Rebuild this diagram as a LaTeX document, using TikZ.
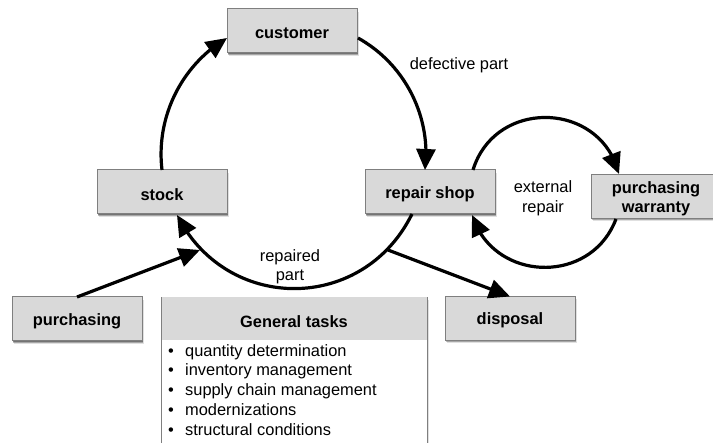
\documentclass[tikz,border=0pt]{standalone}
\usepackage{fontspec}
\setmainfont{Liberation Sans}
\usetikzlibrary{arrows.meta,shadows,bending}
\definecolor{boxfill}{HTML}{D9D9D9}
\definecolor{boxline}{HTML}{7F7F7F}
\newcommand\lowr[1]{\raisebox{-2.2pt}[\height][\depth]{#1}}
\tikzset{
  softshadow/.style={general shadow={shadow xshift=2pt,shadow yshift=-3pt,fill=black,opacity=.12},
    general shadow={shadow xshift=1.3pt,shadow yshift=-2pt,fill=black,opacity=.25},
    general shadow={shadow xshift=.7pt,shadow yshift=-1pt,fill=black,opacity=.3}},
  boxnode/.style={draw=boxline,fill=boxfill,line width=1pt,minimum width=130pt,minimum height=44pt,
    inner sep=0pt,outer sep=0pt,align=center,font=\fontsize{16.4}{19.5}\selectfont\bfseries,softshadow},
  label/.style={inner sep=0pt,align=center,font=\fontsize{16.4}{19.5}\selectfont},
  flow/.style={line width=3.2pt,-{Triangle[length=21pt,width=19pt,flex]}}
}
\begin{document}
\begin{tikzpicture}[x=1pt,y=-1pt]
\clip (0,0) rectangle (713,443);
\fill[white] (0,0) rectangle (713,443);
\node[boxnode] (customer) at (292,31) {\lowr{customer}};
\node[boxnode] (stock) at (162,192) {\lowr{stock}};
\node[boxnode] (repair) at (430,192) {\lowr{repair shop}};
\node[boxnode] (warranty) at (656,196.5) {\lowr{purchasing}\\\lowr{warranty}};
\node[boxnode] (purchasing) at (77,319) {\lowr{purchasing}};
\node[boxnode] (disposal) at (510,318.5) {\lowr{disposal}};
% general tasks
\node[draw=boxline,line width=.8pt,fill=white,minimum width=266pt,minimum height=150pt,inner sep=0pt,outer sep=0pt,anchor=north,softshadow] (tasksbody) at (294,297) {};
\node[fill=boxfill,minimum width=265pt,minimum height=43pt,inner sep=0pt,outer sep=0pt,anchor=north,font=\fontsize{16.4}{19.5}\selectfont\bfseries] (taskshead) at (294,297.5) {\lowr{General tasks}};
\node[label,anchor=north west,align=left,font=\fontsize{16.4}{19.9}\selectfont] (tasklist) at (168,344) {%
\makebox[17pt][l]{\textbullet}quantity determination\\
\makebox[17pt][l]{\textbullet}inventory management\\
\makebox[17pt][l]{\textbullet}supply chain management\\
\makebox[17pt][l]{\textbullet}modernizations\\
\makebox[17pt][l]{\textbullet}structural conditions};
% anchors on the circles
\coordinate (custIn) at (227,38);
\coordinate (custOut) at (358,38);
\coordinate (repIn) at (425,170);
\coordinate (repOut) at (412,214);
\coordinate (stockIn) at (177,215);
\coordinate (repTop) at (473,170);
\coordinate (warIn) at (619,174);
\coordinate (warOut) at (616,219);
\coordinate (repSide) at (472,215);
\coordinate (mainIn) at (200,250);
\coordinate (dispOut) at (388,250);
\draw[flow] (stock.north) to[bend left=33,looseness=.925] (custIn);
\draw[flow] (custOut) to[bend left=34,looseness=.93] (repIn);
\draw[flow] (repOut) to[bend left=63.5,looseness=1.2] (stockIn);
\draw[flow] (repTop) to[bend left=74.5,looseness=1.32] (warIn);
\draw[flow] (warOut) to[bend left=71,looseness=1.26] (repSide);
\draw[flow] (purchasing.north) -- (mainIn);
\draw[flow] (dispOut) -- (disposal.north);
\node[label] (lblDefective) at (459,65.5) {defective part};
\node[label] (lblExternal) at (543,198.5) {external\\repair};
\node[label] (lblRepaired) at (290,267) {repaired\\part};
\end{tikzpicture}
\end{document}
